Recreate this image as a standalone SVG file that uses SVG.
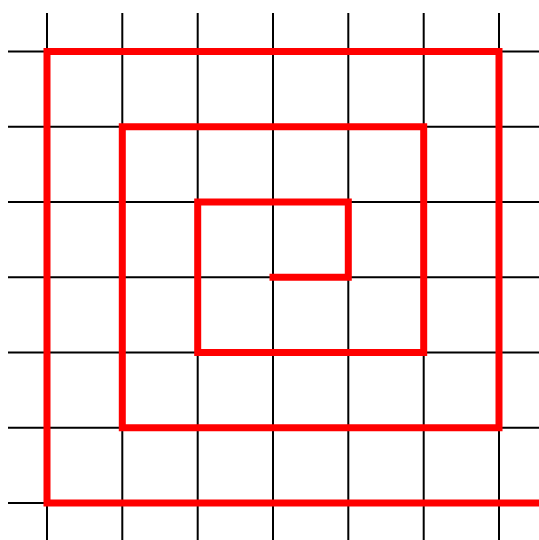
<svg xmlns="http://www.w3.org/2000/svg" width="539" height="540" viewBox="0 0 539 540">
<style>
.grid line{stroke:#000;stroke-width:2}
.spiral{fill:none;stroke:#f00;stroke-width:7;stroke-linejoin:miter;stroke-linecap:square}
</style>
<rect width="539" height="540" fill="#fff"/>
<g id="grid" class="grid">
<line x1="47" y1="13" x2="47" y2="540"/>
<line x1="122.3" y1="13" x2="122.3" y2="540"/>
<line x1="197.7" y1="13" x2="197.7" y2="540"/>
<line x1="273" y1="13" x2="273" y2="540"/>
<line x1="348.3" y1="13" x2="348.3" y2="540"/>
<line x1="423.7" y1="13" x2="423.7" y2="540"/>
<line x1="499" y1="13" x2="499" y2="540"/>
<line x1="8" y1="51.5" x2="539" y2="51.5"/>
<line x1="8" y1="126.8" x2="539" y2="126.8"/>
<line x1="8" y1="202" x2="539" y2="202"/>
<line x1="8" y1="277.3" x2="539" y2="277.3"/>
<line x1="8" y1="352.5" x2="539" y2="352.5"/>
<line x1="8" y1="427.8" x2="539" y2="427.8"/>
<line x1="8" y1="503" x2="539" y2="503"/>
</g>
<g id="connectors">
<path class="spiral" d="M273 277.3 H348.3 V202 H197.7 V352.5 H423.7 V126.8 H122.3 V427.8 H499 V51.5 H47 V503 H542"/>
</g>
</svg>
